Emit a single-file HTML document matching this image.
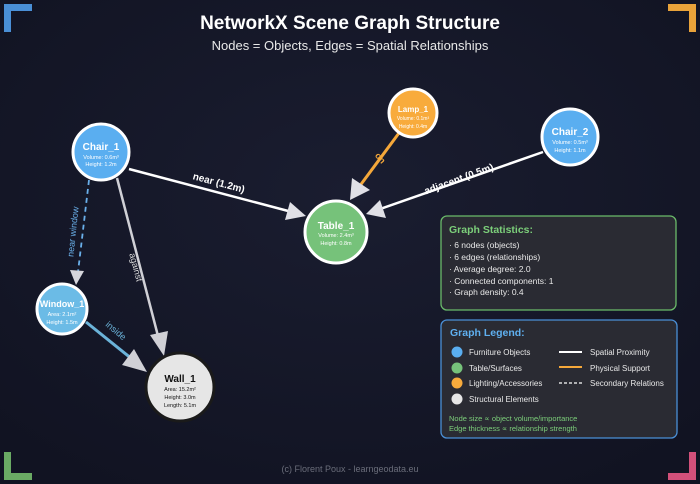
<!DOCTYPE html>
<html><head><meta charset="utf-8"><style>
html,body{margin:0;padding:0;background:#141727;}
svg{display:block;font-family:"Liberation Sans","DejaVu Sans",sans-serif;}
</style></head><body>
<svg width="700" height="484" viewBox="0 0 700 484" xmlns="http://www.w3.org/2000/svg">
<defs>
<radialGradient id="bg" cx="50%" cy="40%" r="70%"><stop offset="0" stop-color="#1a1d30"/><stop offset="1" stop-color="#111322"/></radialGradient>
</defs>
<rect width="700" height="484" fill="url(#bg)"/>
<path d="M4,4 h28 v7 h-21 v21 h-7z" fill="#4a8fd6"/>
<path d="M696,4 h-28 v7 h21 v21 h7z" fill="#e8a23a"/>
<path d="M4,480 h28 v-7 h-21 v-21 h-7z" fill="#6aaa64"/>
<path d="M696,480 h-28 v-7 h21 v-21 h7z" fill="#d2507a"/>
<text x="350" y="29" text-anchor="middle" font-size="19" font-weight="bold" fill="#fff">NetworkX Scene Graph Structure</text>
<text x="350" y="50" text-anchor="middle" font-size="13" fill="#e8e8e8">Nodes = Objects, Edges = Spatial Relationships</text>
<g fill="none">
<line x1="129" y1="169" x2="292" y2="212" stroke="#fff" stroke-width="2.5"/>
<path d="M306,216 L285,220 L290,202z" fill="#e0e0e6"/>
<line x1="543" y1="152" x2="380" y2="209" stroke="#fff" stroke-width="2.5"/>
<path d="M366,214 L380,200 L386,218z" fill="#e0e0e6"/>
<line x1="399" y1="133" x2="359" y2="187" stroke="#f5a83a" stroke-width="3"/>
<path d="M350,200 L352,178 L370,190z" fill="#e0e0e6"/>
<line x1="89" y1="180" x2="78" y2="272" stroke="#6ab0ea" stroke-width="1.8" stroke-dasharray="5,4"/>
<path d="M76,285 L70,270 L84,271z" fill="#d6d6dc"/>
<line x1="117" y1="178" x2="158" y2="336" stroke="#d0d0d6" stroke-width="2.5"/>
<path d="M164,356 L150,335 L168,331z" fill="#d0d0d6"/>
<line x1="86" y1="322" x2="132" y2="359" stroke="#6bb3d9" stroke-width="3"/>
<path d="M147,372 L122,365 L134,349z" fill="#d0d0d6"/>
</g>
<g font-size="10" font-weight="bold" fill="#fff">
<text transform="translate(218,186) rotate(15)" text-anchor="middle">near (1.2m)</text>
<text transform="translate(460,182) rotate(-20)" text-anchor="middle">adjacent (0.5m)</text>
<text transform="translate(378,160) rotate(50)" text-anchor="middle" fill="#f5a83a" font-size="9">on</text>
<text transform="translate(76,232) rotate(-84)" text-anchor="middle" fill="#6ab0ea" font-size="9" font-weight="normal">near window</text>
<text transform="translate(133,268) rotate(75)" text-anchor="middle" fill="#ddd" font-size="9" font-weight="normal">against</text>
<text transform="translate(114,333) rotate(40)" text-anchor="middle" fill="#6bb3d9" font-size="9" font-weight="normal">inside</text>
</g>
<g stroke="#fff" stroke-width="3">
<circle cx="101" cy="152" r="28" fill="#5aaef0"/>
<circle cx="336" cy="232" r="31" fill="#76c27a"/>
<circle cx="413" cy="113" r="24" fill="#f8ab3c"/>
<circle cx="570" cy="137" r="28" fill="#5aaef0"/>
<circle cx="62" cy="309" r="25" fill="#6bbbe6"/>
<circle cx="180" cy="387" r="34" fill="#e6e6e6" stroke="#1a1a1a" stroke-width="3"/>
</g>
<g text-anchor="middle" fill="#fff">
<text x="101" y="150" font-size="10" font-weight="bold">Chair_1</text>
<text x="101" y="159" font-size="5.5">Volume: 0.6m³</text><text x="101" y="166" font-size="5.5">Height: 1.2m</text>
<text x="336" y="229" font-size="10" font-weight="bold">Table_1</text>
<text x="336" y="237" font-size="5.5">Volume: 2.4m³</text><text x="336" y="245" font-size="5.5">Height: 0.8m</text>
<text x="413" y="112" font-size="8" font-weight="bold">Lamp_1</text>
<text x="413" y="120" font-size="5">Volume: 0.1m³</text><text x="413" y="128" font-size="5">Height: 0.4m</text>
<text x="570" y="135" font-size="10" font-weight="bold">Chair_2</text>
<text x="570" y="144" font-size="5.5">Volume: 0.5m³</text><text x="570" y="152" font-size="5.5">Height: 1.1m</text>
<text x="62" y="307" font-size="9" font-weight="bold">Window_1</text>
<text x="62" y="316" font-size="5.5">Area: 2.1m²</text><text x="62" y="324" font-size="5.5">Height: 1.5m</text>
<g fill="#111"><text x="180" y="382" font-size="10" font-weight="bold">Wall_1</text>
<text x="180" y="391" font-size="5.5">Area: 15.2m²</text><text x="180" y="399" font-size="5.5">Height: 3.0m</text><text x="180" y="407" font-size="5.5">Length: 5.1m</text></g>
</g>
<rect x="441" y="216" width="235" height="94" rx="6" fill="#2a2b33" stroke="#6abb6a" stroke-width="1.3"/>
<text x="449" y="233" font-size="10.5" font-weight="bold" fill="#7ccf7a">Graph Statistics:</text>
<g font-size="8.5" fill="#e8e8e8">
<text x="449" y="248">· 6 nodes (objects)</text>
<text x="449" y="260">· 6 edges (relationships)</text>
<text x="449" y="272">· Average degree: 2.0</text>
<text x="449" y="284">· Connected components: 1</text>
<text x="449" y="295">· Graph density: 0.4</text>
</g>
<rect x="441" y="320" width="236" height="118" rx="6" fill="#2a2b33" stroke="#4a8fd6" stroke-width="1.3"/>
<text x="450" y="336" font-size="10.5" font-weight="bold" fill="#5fb0f0">Graph Legend:</text>
<circle cx="457" cy="352" r="5.5" fill="#5aaef0"/>
<circle cx="457" cy="368" r="5.5" fill="#76c27a"/>
<circle cx="457" cy="383" r="5.5" fill="#f8ab3c"/>
<circle cx="457" cy="399" r="5.5" fill="#e6e6e6"/>
<g font-size="8" fill="#e8e8e8">
<text x="469" y="355">Furniture Objects</text>
<text x="469" y="371">Table/Surfaces</text>
<text x="469" y="386">Lighting/Accessories</text>
<text x="469" y="402">Structural Elements</text>
<text x="590" y="355">Spatial Proximity</text>
<text x="590" y="371">Physical Support</text>
<text x="590" y="386">Secondary Relations</text>
</g>
<line x1="559" y1="352" x2="582" y2="352" stroke="#fff" stroke-width="2"/>
<line x1="559" y1="367" x2="582" y2="367" stroke="#f5a83a" stroke-width="2"/>
<line x1="559" y1="383" x2="582" y2="383" stroke="#fff" stroke-width="1.3" stroke-dasharray="3,2"/>
<text x="449" y="421" font-size="7.5" fill="#7ccf7a">Node size ∝ object volume/importance</text>
<text x="449" y="431" font-size="7.5" fill="#7ccf7a">Edge thickness ∝ relationship strength</text>
<text x="350" y="472" text-anchor="middle" font-size="9" fill="#6a6d7a">(c) Florent Poux - learngeodata.eu</text>
</svg>
</body></html>
